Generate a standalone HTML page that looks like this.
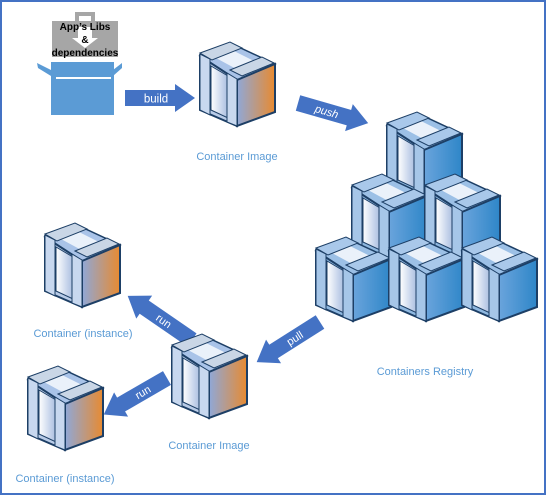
<!DOCTYPE html>
<html><head><meta charset="utf-8"><style>
html,body{margin:0;padding:0;background:#fff}
svg{display:block}
text{font-family:"Liberation Sans",sans-serif}
</style></head><body>
<svg width="546" height="495" viewBox="0 0 546 495" xmlns="http://www.w3.org/2000/svg">
<defs>
<linearGradient id="og" x1="0" x2="1" y1="0" y2="0"><stop offset="0" stop-color="#8fa8d8"/><stop offset="1" stop-color="#e88a30"/></linearGradient>
<linearGradient id="bg" x1="0" x2="1" y1="0" y2="0"><stop offset="0" stop-color="#6aa4dc"/><stop offset="1" stop-color="#2e86c8"/></linearGradient>
<linearGradient id="dg" x1="0" x2="1"><stop offset="0" stop-color="#fff"/><stop offset="1" stop-color="#a8bde0"/></linearGradient>
<g id="cubeO">
 <polygon points="0,12 32,0 75,20 37,36" fill="#a9c3e8" stroke="#1d3f66" stroke-width="1.5"/>
 <polygon points="16,14 34,7 58,19 40,27" fill="#eaf1fa"/>
 <polygon points="0,9 30,-2 42,4 12,16" fill="#c9d6e6" stroke="#1d3f66" stroke-width="1"/>
 <polygon points="30,26 62,13 74,19 42,32" fill="#c9d6e6" stroke="#1d3f66" stroke-width="1"/>
 <polygon points="37,36 75,20 75,68 37,82" fill="url(#og)" stroke="#1d3f66" stroke-width="2"/>
 <polygon points="0,12 37,36 37,82 0,66" fill="#b9cce8" stroke="#1d3f66" stroke-width="2"/>
 <polygon points="11,22 28,32 28,74 11,66" fill="url(#dg)" stroke="#1d3f66" stroke-width="1"/>
 <polygon points="0,10 10,15 10,71 0,66" fill="#c8d8ef" stroke="#1d3f66" stroke-width="1"/>
 <polygon points="27,29 37,35 37,82 27,78" fill="#c8d8ef" stroke="#1d3f66" stroke-width="1"/>
</g>
<g id="cubeB">
 <polygon points="0,12 32,0 75,20 37,36" fill="#9cc0e6" stroke="#1d3f66" stroke-width="1.5"/>
 <polygon points="16,14 34,7 58,19 40,27" fill="#eaf1fa"/>
 <polygon points="0,9 30,-2 42,4 12,16" fill="#a9c8ea" stroke="#1d3f66" stroke-width="1"/>
 <polygon points="30,26 62,13 74,19 42,32" fill="#a9c8ea" stroke="#1d3f66" stroke-width="1"/>
 <polygon points="37,36 75,20 75,68 37,82" fill="url(#bg)" stroke="#1d3f66" stroke-width="2"/>
 <polygon points="0,12 37,36 37,82 0,66" fill="#8fb8e0" stroke="#1d3f66" stroke-width="2"/>
 <polygon points="11,22 28,32 28,74 11,66" fill="url(#dg)" stroke="#1d3f66" stroke-width="1"/>
 <polygon points="0,10 10,15 10,71 0,66" fill="#a6c6e8" stroke="#1d3f66" stroke-width="1"/>
 <polygon points="27,29 37,35 37,82 27,78" fill="#a6c6e8" stroke="#1d3f66" stroke-width="1"/>
</g>
</defs>
<rect x="1" y="1" width="544" height="493" fill="#fff" stroke="#4472c4" stroke-width="2"/>

<rect x="77" y="14" width="16" height="9" fill="none" stroke="#a6a6a6" stroke-width="4"/>
<rect x="52" y="21" width="66" height="36" fill="#a6a6a6"/>
<polygon points="78,27 92,27 92,38 98,38 85,48 72,38 78,38" fill="#fff"/>
<text x="85" y="30" font-size="10" font-weight="bold" text-anchor="middle" fill="#000">App’s Libs</text>
<text x="85" y="43" font-size="10" font-weight="bold" text-anchor="middle" fill="#000">&amp;</text>
<text x="85" y="56" font-size="10" font-weight="bold" text-anchor="middle" fill="#000">dependencies</text>
<polygon points="37,63 51,70 51,76 38,68" fill="#5b9bd5"/>
<polygon points="122,63 113,70 113,76 122,68" fill="#5b9bd5"/>
<rect x="51" y="62" width="63" height="53" fill="#5b9bd5"/>
<rect x="56" y="77" width="55" height="2" fill="#fff"/>

<g fill="#4472c4">
 <g transform="translate(125,98)"><rect x="0" y="-8" width="52" height="16"/><polygon points="50,-14 70,0 50,14"/>
  <text x="31" y="4.5" font-size="11.5" fill="#fff" text-anchor="middle">build</text></g>
 <g transform="translate(298,103) rotate(16)"><rect x="0" y="-8" width="55" height="16"/><polygon points="53,-14 73,0 53,14"/>
  <text x="30" y="4" font-size="11" font-style="italic" fill="#fff" text-anchor="middle">push</text></g>
 <g transform="translate(320,322) rotate(147.6)"><rect x="0" y="-8" width="57" height="16"/><polygon points="55,-14 75,0 55,14"/>
  <text transform="translate(30,0) rotate(180)" x="0" y="4" font-size="11" fill="#fff" text-anchor="middle">pull</text></g>
 <g transform="translate(192,340) rotate(-145.5)"><rect x="0" y="-8" width="60" height="16"/><polygon points="58,-14 78,0 58,14"/>
  <text transform="translate(34,0) rotate(180)" x="0" y="4" font-size="11" fill="#fff" text-anchor="middle">run</text></g>
 <g transform="translate(167,378) rotate(150)"><rect x="0" y="-8" width="55" height="16"/><polygon points="53,-14 73,0 53,14"/>
  <text transform="translate(28,0) rotate(180)" x="0" y="4" font-size="11" fill="#fff" text-anchor="middle">run</text></g>
</g>

<use href="#cubeO" x="200" y="44"/>
<use href="#cubeO" x="172" y="336"/>
<use href="#cubeO" x="45" y="225"/>
<use href="#cubeO" x="28" y="368"/>

<use href="#cubeB" x="387" y="114"/>
<use href="#cubeB" x="352" y="176"/>
<use href="#cubeB" x="425" y="176"/>
<use href="#cubeB" x="316" y="239"/>
<use href="#cubeB" x="389" y="239"/>
<use href="#cubeB" x="462" y="239"/>

<g fill="#5b9bd5" font-size="11" text-anchor="middle" style="font-family:'DejaVu Sans Condensed','Liberation Sans',sans-serif">
 <text x="237" y="160">Container Image</text>
 <text x="425" y="375">Containers Registry</text>
 <text x="83" y="337">Container (instance)</text>
 <text x="209" y="449">Container Image</text>
 <text x="65" y="482">Container (instance)</text>
</g>
</svg>
</body></html>
